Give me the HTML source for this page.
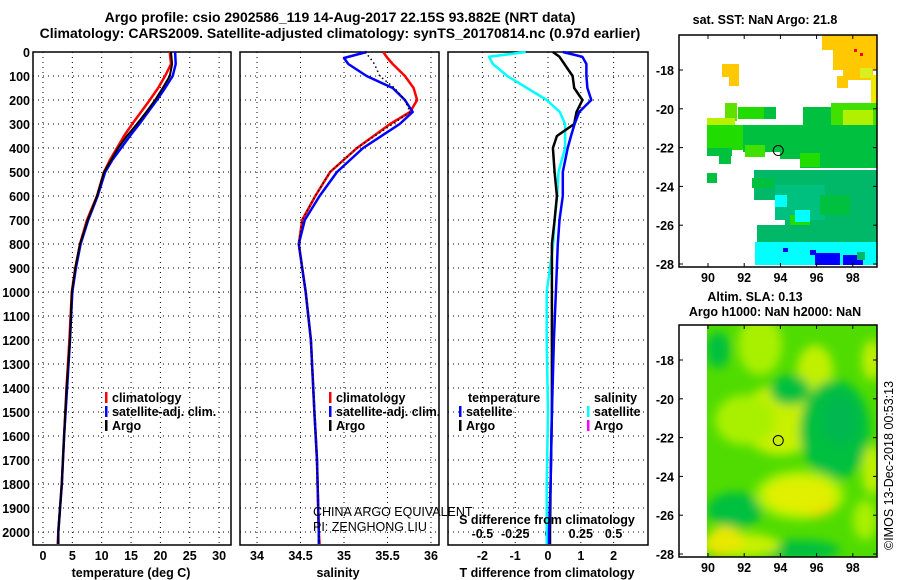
<!DOCTYPE html>
<html><head><meta charset="utf-8"><style>
body{margin:0;background:#fff;}
svg{display:block;font-family:"Liberation Sans",Arial,sans-serif;}
.b{font-weight:bold;font-size:12.5px;}
.t{font-weight:bold;font-size:14px;}
</style></head><body>
<svg id="c" width="900" height="580" viewBox="0 0 900 580">
<text class="t" x="340" y="22" text-anchor="middle">Argo profile: csio 2902586_119 14-Aug-2017 22.15S 93.882E (NRT data)</text>
<text class="t" x="340" y="38" text-anchor="middle">Climatology: CARS2009. Satellite-adjusted climatology: synTS_20170814.nc (0.97d earlier)</text>
<g id="g"></g>
</svg>
<script>
// ---- data ----
const depthT=[0,50,100,150,200,250,300,350,400,450,500,600,700,800,900,1000,1200,1400,1600,1800,2000,2050];
const tempClim=[21.6,21.8,20.8,19.6,18.2,16.7,15.2,13.8,12.6,11.4,10.4,9.2,7.5,6.3,5.5,4.9,4.5,4.0,3.6,3.2,2.6,2.5];
const tempSat=[22.5,22.6,22.1,20.8,19.4,17.9,16.4,14.8,13.3,11.8,10.6,9.3,7.7,6.4,5.6,5.0,4.6,4.1,3.6,3.2,2.6,2.6];
const tempArgo=[21.8,22.0,21.6,20.4,19.1,17.6,16.0,14.3,12.8,11.6,10.4,9.2,7.6,6.3,5.5,4.9,4.6,4.0,3.6,3.2,2.6,2.6];
const depthS=[0,25,50,100,150,200,250,300,400,500,600,700,800,900,1000,1200,1500,1700,2000,2050];
const salClim=[35.45,35.5,35.56,35.7,35.8,35.84,35.76,35.53,35.15,34.84,34.67,34.52,34.48,34.52,34.56,34.62,34.66,34.69,34.71,34.72];
const salSat=[35.26,35.0,35.05,35.26,35.56,35.7,35.79,35.64,35.22,34.92,34.72,34.55,34.48,34.52,34.56,34.62,34.66,34.69,34.71,34.71];
const salArgo=[35.24,35.3,35.35,35.41,35.58,35.7,35.76,35.56,35.15,34.84,34.67,34.52,34.48,34.52,34.56,34.62,34.66,34.69,34.71,34.71];
const depthD=[0,20,50,100,150,200,250,300,350,400,500,600,700,800,1000,1200,1500,1800,2000,2050];
const tDiffSat=[0.45,1.05,1.17,1.17,1.2,1.32,0.95,0.81,0.7,0.6,0.45,0.45,0.35,0.3,0.24,0.18,0.12,0.08,0.03,0.03];
const tDiffArgo=[0.15,0.35,0.5,0.75,0.8,1.05,0.87,0.8,0.27,0.15,0.2,0.27,0.2,0.12,0.12,0.12,0.12,0.08,0.06,0.06];
const sDiffSat=[-0.17,-0.45,-0.42,-0.31,-0.16,-0.01,0.09,0.13,0.13,0.13,0.08,0.07,0.05,0.04,-0.01,-0.01,0.0,-0.01,-0.01,-0.01];
const depthTicks=[0,100,200,300,400,500,600,700,800,900,1000,1100,1200,1300,1400,1500,1600,1700,1800,1900,2000];
const tempTicks=[0,5,10,15,20,25,30];
const salTicks=[34,34.5,35,35.5,36];
const tDiffTicks=[-2,-1,0,1,2];
const sDiffTicks=[-0.5,-0.25,0,0.25,0.5];
const lonTicks=[90,92,94,96,98];
const latTicks=[-18,-20,-22,-24,-26,-28];
const argoLon=93.882, argoLat=-22.15;

const NS='http://www.w3.org/2000/svg', G=document.getElementById('g');
function mk(tag,at,txt,p){const e=document.createElementNS(NS,tag);for(const k in at)e.setAttribute(k,at[k]);if(txt!=null)e.textContent=txt;(p||G).appendChild(e);return e;}
const yD=d=>52+d*0.24;
const panels=[{x0:33,x1:231,name:'temperature'},{x0:240,x1:439,name:'salinity'},{x0:448,x1:648,name:'difference'}];
const xT=v=>43+v*5.87, xS=v=>257+(v-34)*87, xTD=v=>548+v*32.8, xSD=v=>548+v*131.2;

panels.forEach((p,i)=>{
  const r=mk('rect',{x:p.x0,y:52,width:p.x1-p.x0,height:493,fill:'none',stroke:'#000','stroke-width':1.5});
  
  
  depthTicks.forEach(d=>{const l=mk('line',{x1:p.x0,x2:p.x1,y1:yD(d),y2:yD(d),stroke:'#000','stroke-dasharray':'1,4'});
    
    });
});
depthTicks.forEach(d=>{const t=mk('text',{x:30,y:yD(d)+5,'text-anchor':'end',class:'b'},String(d));
  
  });
function vgrid(ticks,f,ly){ticks.forEach(v=>{const X=f(v);
  const l=mk('line',{x1:X,x2:X,y1:52,y2:545,stroke:'#000','stroke-dasharray':'1,4'});
  
  
  const t=mk('text',{x:X,y:ly,'text-anchor':'middle',class:'b'},String(v));
  
  });}
vgrid(tempTicks,xT,560);vgrid(salTicks,xS,560);vgrid(tDiffTicks,xTD,560);
sDiffTicks.forEach(v=>{const t=mk('text',{x:xSD(v),y:538,'text-anchor':'middle',class:'b'},String(v));
  
  });

function line(depths,vals,f,color,name,dash,w){
  const pts=depths.map((d,i)=>f(vals[i]).toFixed(1)+','+yD(d).toFixed(1)).join(' ');
  const e=mk('polyline',{points:pts,fill:'none',stroke:color,'stroke-width':w||2.5,'stroke-dasharray':dash||'none','stroke-linejoin':'round'});
  
  }
line(depthT,tempClim,xT,'#f00','temp-climatology-line');
line(depthT,tempSat,xT,'#00f','temp-satellite-line');
line(depthT,tempArgo,xT,'#000','temp-argo-line',null,2);
line(depthS,salClim,xS,'#f00','sal-climatology-line');
line(depthS,salSat,xS,'#00f','sal-satellite-line');
line(depthS,salArgo,xS,'#000','sal-argo-line','1.5,3',1.5);
line(depthD,sDiffSat,xSD,'#0ff','s-diff-satellite-line');
line(depthD,tDiffArgo,xTD,'#000','t-diff-argo-line');
line(depthD,tDiffSat,xTD,'#00f','t-diff-satellite-line');

function legend(x,y,items,pre){items.forEach((it,i)=>{
  const r=mk('rect',{x:x,y:y+i*14-10,width:2.5,height:11,fill:it[1]});
  
  
  const t=mk('text',{x:x+7,y:y+i*14,class:'b'},it[0]);
  
  });}
legend(105,402,[['climatology','#f00'],['satellite-adj. clim.','#00f'],['Argo','#000']],'temp');
legend(329,402,[['climatology','#f00'],['satellite-adj. clim.','#00f'],['Argo','#000']],'sal');
legend(459,416,[['satellite','#00f'],['Argo','#000']],'tdiff');
legend(587,416,[['satellite','#0ff'],['Argo','#f0f']],'sdiff');
[['temperature',468,402],['salinity',594,402]].forEach(a=>{const t=mk('text',{x:a[1],y:a[2],class:'b'},a[0]);
  
  });
[['temperature (deg C)',131,577,'temp-x-axis-title'],['salinity',338,577,'sal-x-axis-title'],['T difference from climatology',547,577,'t-diff-axis-title'],['S difference from climatology',547,524,'s-diff-axis-title']].forEach(a=>{
  const t=mk('text',{x:a[1],y:a[2],'text-anchor':'middle',class:'b'},a[0]);
  
  });
[['CHINA ARGO EQUIVALENT',516],['PI: ZENGHONG LIU',531]].forEach(a=>{const t=mk('text',{x:313,y:a[1],'font-size':'12.5'},a[0]);
  
  });

// ---- maps ----
const mx=v=>708+(v-90)*18.1, myT=v=>70+(-18-v)*19.4, myB=v=>360+(-18-v)*19.4;
const defs=mk('defs',{});
const cpT=mk('clipPath',{id:'clT'},null,defs);mk('rect',{x:679,y:35,width:198,height:232},null,cpT);
const flt=mk('filter',{id:'bl',x:'-50%',y:'-50%',width:'200%',height:'200%'},null,defs);
mk('feGaussianBlur',{stdDeviation:5},null,flt);
const cp=mk('clipPath',{id:'cl'},null,defs);mk('rect',{x:707,y:325,width:170,height:232},null,cp);
// top map cells
const topCells=[
 ['#ffc800',822,35,55,15],['#ffc800',833,50,44,20],['#ffc800',843,70,30,10],['#d8f020',860,68,12,10],['#f0e800',871,75,6,30],
 ['#ffc800',722,64,17,13],['#ffc800',729,77,10,9],['#ffc800',837,76,11,12],['#f00',854,49,3,3],['#f00',860,53,3,3],
 ['#60e000',725,103,12,18],['#20dc00',738,107,26,12],['#00c040',764,107,12,12],['#00c040',803,107,74,20],['#40e000',831,103,46,25],
 ['#b0f000',843,110,30,25],['#b8f000',707,118,28,20],['#20dc00',707,125,170,25],['#00c040',743,125,134,27],
 ['#00c040',707,148,25,8],['#40e000',745,145,20,12],['#00c040',780,145,20,14],['#00c040',800,148,77,20],['#20dc00',800,153,20,14],
 ['#00c040',719,152,12,12],['#00c040',707,173,10,10],['#00b868',754,170,123,30],['#00c040',752,178,22,10],['#00b868',785,195,92,45],
 ['#00c080',775,185,50,35],['#0ff',775,195,12,12],['#00c040',820,195,30,20],['#20dc00',790,215,20,10],['#00b868',757,225,120,15],
 ['#00b868',757,240,120,10],['#0ff',755,242,122,23],['#0ff',795,210,15,12],['#00f',783,248,5,4],['#00f',810,250,6,5],
 ['#00f',815,253,25,12],['#00f',843,255,20,10],['#00b868',857,252,8,8],['#0ff',773,258,8,7]];
const tg=mk('g',{'clip-path':'url(#clT)'});


topCells.forEach(c=>{const r=mk('rect',{x:c[1],y:c[2],width:c[3],height:c[4],fill:c[0]},null,tg);
  
  });
// bottom map
const bg=mk('g',{'clip-path':'url(#cl)'});


mk('rect',{x:707,y:325,width:170,height:232,fill:'#50dc00'},null,bg);
const blobs=[
 ['#a8f000',760,345,22,30],['#c8f000',780,420,40,35],['#a8f000',745,420,30,25],['#c0f000',815,370,18,25],
 ['#00c040',718,350,12,18],['#00c040',790,390,20,15],['#00c040',835,430,35,50],['#00b850',840,420,18,25],
 ['#00c040',735,510,28,18],['#00c040',800,550,40,10],['#a8f000',800,495,45,25],['#ffc800',812,502,22,13],
 ['#e0f000',800,495,35,18],['#c8f000',740,545,40,12],['#ffc800',720,545,10,12],['#e8e800',725,540,18,14],
 ['#c0f000',872,470,10,25],['#c0f000',872,360,10,20],['#a8f000',865,520,12,20]];
const bgB=mk('g',{filter:'url(#bl)'},null,bg);
blobs.forEach(b=>{const e=mk('ellipse',{cx:b[1],cy:b[2],rx:b[3],ry:b[4],fill:b[0]},null,bgB);
  
  });
[[35,267,myT,'sst-map'],[325,557,myB,'sla-map']].forEach(m=>{
  const r=mk('rect',{x:679,y:m[0],width:198,height:m[1]-m[0],fill:'none',stroke:'#000','stroke-width':1.5});
  
  
  lonTicks.forEach(v=>{mk('line',{x1:mx(v),x2:mx(v),y1:m[1],y2:m[1]-4,stroke:'#000'});mk('line',{x1:mx(v),x2:mx(v),y1:m[0],y2:m[0]+4,stroke:'#000'});
    const t=mk('text',{x:mx(v),y:m[1]+15,'text-anchor':'middle',class:'b'},String(v));
    
    });
  latTicks.forEach(v=>{mk('line',{x1:679,x2:683,y1:m[2](v),y2:m[2](v),stroke:'#000'});mk('line',{x1:877,x2:873,y1:m[2](v),y2:m[2](v),stroke:'#000'});
    const t=mk('text',{x:674,y:m[2](v)+5,'text-anchor':'end',class:'b'},String(v));
    
    });
  const c=mk('circle',{cx:mx(argoLon),cy:m[2](argoLat),r:5,fill:'none',stroke:'#000','stroke-width':1});
  
  
});
[['sat. SST: NaN Argo: 21.8',765,24,'sst-map-title'],['Altim. SLA: 0.13',755,301,'sla-map-title'],['Argo h1000: NaN h2000: NaN',775,316,'sla-map-subtitle']].forEach(a=>{
  const t=mk('text',{x:a[1],y:a[2],'text-anchor':'middle',class:'b'},a[0]);
  
  });
const cr=mk('text',{x:0,y:0,'font-size':'12.5',transform:'translate(893,550) rotate(-90)'},'©IMOS 13-Dec-2018 00:53:13');


</script>
</body></html>
